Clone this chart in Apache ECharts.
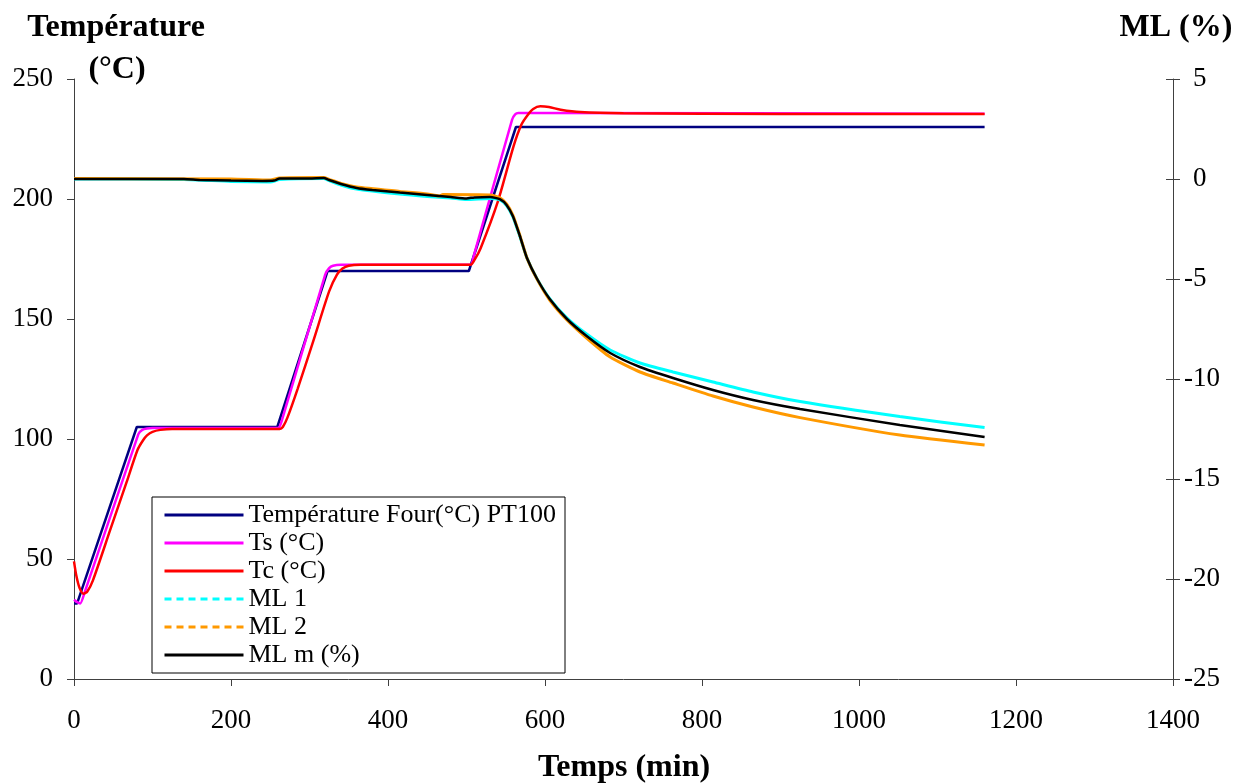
<!DOCTYPE html>
<html><head><meta charset="utf-8">
<script src="https://cdn.jsdelivr.net/npm/echarts/dist/echarts.min.js"></script>
<style>html,body{margin:0;padding:0;background:#fff}#c{width:1237px;height:784px}</style>
</head><body><div id="c"></div>
<script>
// ---- data (time in min) ----
const seriesNames = ['Température Four(°C) PT100', 'Ts (°C)', 'Tc (°C)', 'ML 1', 'ML 2', 'ML m (%)'];
const xTicks = [0, 200, 400, 600, 800, 1000, 1200, 1400];

const fourTime = [0, 4, 80, 259, 323, 503, 563, 1160];
const fourTemp = [31.5, 31.5, 105, 105, 170, 170, 230, 230];

const tsTime = [0, 4, 8, 14, 82, 87, 93, 100, 260, 265, 320, 325, 330, 340, 505, 509, 558, 562, 566, 580, 1160];
const tsTemp = [33, 32, 31.5, 36.5, 102, 103.8, 104.4, 104.6, 104.6, 108, 168.5, 171.2, 172.2, 172.6, 172.6, 176, 233, 235.3, 235.8, 235.8, 235.5];

const tcTime = [0, 3, 7, 12, 17, 24, 46, 67, 81, 88, 93, 100, 110, 125, 262, 266, 272, 285, 305, 325, 335, 342, 350, 365, 505, 510, 518, 540, 560, 570, 578, 585, 594, 605, 620, 645, 700, 900, 1160];
const tcTemp = [49, 43, 38, 35.5, 36.5, 41, 62, 82, 95.5, 99.5, 101.5, 103, 103.8, 104.2, 104.2, 105, 109, 121, 141, 161.5, 168.5, 171, 172.2, 172.6, 172.6, 174.5, 179.5, 199, 222, 231, 235, 237.5, 238.6, 238.3, 237.2, 236.2, 235.7, 235.4, 235.4];

const ml1Time = [0, 140, 200, 250, 262, 318, 325, 340, 360, 415, 450, 480, 500, 530, 543, 551, 559, 568, 577, 590, 606, 628, 653, 683, 721, 763, 814, 865, 925, 1052, 1160];
const ml1Val = [0, -0.02, -0.12, -0.15, -0.03, 0.02, -0.08, -0.3, -0.5, -0.75, -0.87, -0.95, -1.03, -0.98, -1.05, -1.33, -1.88, -2.88, -3.95, -5.0, -5.98, -6.95, -7.75, -8.55, -9.2, -9.65, -10.15, -10.65, -11.13, -11.88, -12.43];

const ml2Time = [0, 200, 250, 262, 318, 325, 340, 360, 415, 450, 465, 470, 530, 543, 551, 559, 568, 577, 590, 606, 628, 653, 683, 721, 763, 814, 865, 925, 1052, 1160];
const ml2Val = [0.02, 0, -0.05, 0.05, 0.07, -0.02, -0.22, -0.4, -0.62, -0.75, -0.85, -0.78, -0.8, -0.95, -1.25, -1.8, -2.82, -3.95, -5.02, -6.05, -7.05, -7.95, -8.9, -9.65, -10.2, -10.85, -11.4, -11.93, -12.8, -13.3];

const mlmTime = [0, 140, 160, 200, 240, 255, 262, 300, 318, 325, 340, 360, 380, 415, 450, 480, 500, 510, 530, 543, 551, 559, 568, 577, 590, 606, 628, 653, 683, 721, 763, 814, 865, 925, 1052, 1160];
const mlmVal = [0, 0, -0.05, -0.08, -0.1, -0.08, 0.03, 0.03, 0.05, -0.05, -0.25, -0.45, -0.55, -0.68, -0.8, -0.9, -0.97, -0.92, -0.9, -1.02, -1.3, -1.85, -2.85, -3.95, -5.0, -6.0, -7.0, -7.85, -8.7, -9.4, -9.95, -10.55, -11.05, -11.5, -12.3, -12.9];

// ---- helpers ----
const zip = (a, b) => a.map((v, i) => [v, b[i]]);
const FONT = '"Liberation Serif", "Times New Roman", serif';
const AX = '#404040';

const chart = echarts.init(document.getElementById('c'), null, {renderer: 'canvas'});

function lineSeries(name, data, color, yIdx, width, smooth) {
  return {
    name, type: 'line', data, yAxisIndex: yIdx, showSymbol: false, symbol: 'none',
    smooth: smooth, color: color, lineStyle: {color, width}, animation: false, z: 2
  };
}

const option = {
  animation: false,
  backgroundColor: '#fff',
  grid: {left: 74, right: 64, top: 79, bottom: 105, containLabel: false},
  xAxis: {
    type: 'value', min: 0, max: 1400, interval: 200,
    axisLine: {lineStyle: {color: AX, width: 1}},
    axisTick: {show: true, inside: false, length: 7, lineStyle: {color: AX}},
    axisLabel: {fontFamily: FONT, fontSize: 27, color: '#000', margin: 28, formatter: v => String(v)},
    splitLine: {show: false}
  },
  yAxis: [
    {
      type: 'value', min: 0, max: 250, interval: 50, position: 'left',
      axisLine: {show: true, lineStyle: {color: AX, width: 1}},
      axisTick: {show: true, inside: false, length: 7, lineStyle: {color: AX}},
      axisLabel: {fontFamily: FONT, fontSize: 27, color: '#000', margin: 21},
      splitLine: {show: false}
    },
    {
      type: 'value', min: -25, max: 5, interval: 5, position: 'right',
      axisLine: {show: true, onZero: false, lineStyle: {color: AX, width: 1}},
      axisTick: {show: true, inside: false, length: 7, lineStyle: {color: AX}},
      axisLabel: {
        fontFamily: FONT, fontSize: 27, color: '#000', margin: 11,
        formatter: v => v >= 0 ? '{p|' + v + '}' : String(v),
        rich: {p: {fontFamily: FONT, fontSize: 27, color: '#000', padding: [0, 0, 0, 9]}}
      },
      splitLine: {show: false}
    },
    {
      type: 'value', min: -25, max: 5, interval: 5, position: 'right',
      axisLine: {show: false},
      axisTick: {show: true, inside: true, length: 7, lineStyle: {color: AX}},
      axisLabel: {show: false},
      splitLine: {show: false}
    }
  ],
  legend: {
    orient: 'vertical', left: 152, top: 497,
    padding: [4, 9, 4, 11], itemGap: 0, itemWidth: 79, itemHeight: 10,
    backgroundColor: '#fff', borderColor: '#000', borderWidth: 1,
    itemStyle: {color: 'transparent', borderColor: 'transparent', borderWidth: 0, opacity: 0},
    lineStyle: {width: 3},
    textStyle: {fontFamily: FONT, fontSize: 26, color: '#000', lineHeight: 28, padding: [0, 0, 0, 0]},
    data: [
      {name: seriesNames[0]},
      {name: seriesNames[1]},
      {name: seriesNames[2]},
      {name: seriesNames[3], lineStyle: {type: [7, 5], width: 3}},
      {name: seriesNames[4], lineStyle: {type: [7, 5], width: 3}},
      {name: seriesNames[5]}
    ]
  },
  series: [
    lineSeries(seriesNames[0], zip(fourTime, fourTemp), '#000080', 0, 2.5, false),
    lineSeries(seriesNames[1], zip(tsTime, tsTemp), '#FF00FF', 0, 2.5, 0.2),
    lineSeries(seriesNames[2], zip(tcTime, tcTemp), '#FF0000', 0, 2.5, 0.25),
    lineSeries(seriesNames[3], zip(ml1Time, ml1Val), '#00FFFF', 1, 3, 0.2),
    lineSeries(seriesNames[4], zip(ml2Time, ml2Val), '#FF9900', 1, 3, 0.2),
    lineSeries(seriesNames[5], zip(mlmTime, mlmVal), '#000000', 1, 2.5, 0.2)
  ],
  graphic: [
    {type: 'text', x: 116, y: 28, style: {text: 'Température', font: 'bold 32px ' + FONT, fill: '#000', align: 'center', verticalAlign: 'middle'}},
    {type: 'text', x: 117, y: 70, style: {text: '(°C)', font: 'bold 32px ' + FONT, fill: '#000', align: 'center', verticalAlign: 'middle'}},
    {type: 'text', x: 1176, y: 28, style: {text: 'ML (%)', font: 'bold 32px ' + FONT, fill: '#000', align: 'center', verticalAlign: 'middle'}},
    {type: 'text', x: 624, y: 768, style: {text: 'Temps (min)', font: 'bold 32px ' + FONT, fill: '#000', align: 'center', verticalAlign: 'middle'}}
  ]
};
chart.setOption(option);
</script>
</body></html>
